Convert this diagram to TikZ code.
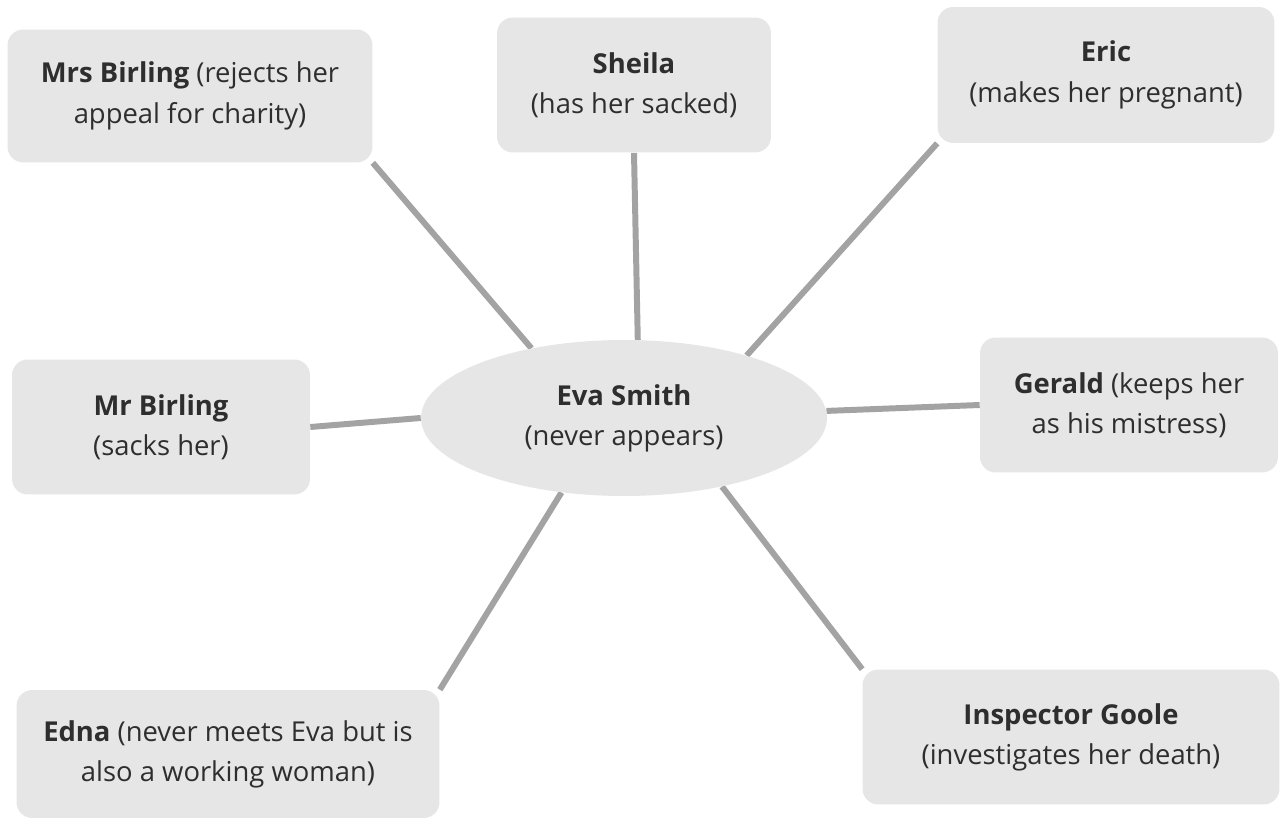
\documentclass[tikz,border=0pt]{standalone}
\usepackage{fontspec}
\setmainfont{Open Sans}
\usetikzlibrary{shapes.geometric,backgrounds}
\definecolor{boxfill}{HTML}{E6E6E6}
\definecolor{linkgray}{HTML}{A3A3A3}
\definecolor{txt}{HTML}{2E2E2E}
\begin{document}
\begin{tikzpicture}[x=0.02cm,y=-0.02cm,
  card/.style={rectangle,rounded corners=9pt,fill=boxfill,draw=none,align=center,
    text=txt,inner sep=0pt,font=\fontsize{15.6}{22.9}\selectfont},
  hub/.style={ellipse,fill=boxfill,draw=none,align=center,text=txt,inner sep=0pt,
    minimum width=8.12cm,minimum height=3.12cm,font=\fontsize{15.6}{22.9}\selectfont},
  link/.style={draw=linkgray,line width=3.4pt}]
\useasboundingbox (0,0) rectangle (1282,820);
\node[hub] (eva) at (624,418) {\textbf{Eva Smith}\\(never appears)};
\node[card,minimum width=7.3cm,minimum height=2.66cm] (mrs) at (190,96) {\textbf{Mrs Birling} (rejects her\\appeal for charity)};
\node[card,minimum width=5.48cm,minimum height=2.7cm] (sheila) at (634,85) {\textbf{Sheila}\\(has her sacked)};
\node[card,minimum width=6.74cm,minimum height=2.72cm] (eric) at (1106,75) {\textbf{Eric}\\(makes her pregnant)};
\node[card,minimum width=5.96cm,minimum height=2.7cm] (mrb) at (161,427) {\textbf{Mr Birling}\\(sacks her)};
\node[card,minimum width=5.96cm,minimum height=2.7cm] (gerald) at (1129,405) {\textbf{Gerald} (keeps her\\as his mistress)};
\node[card,minimum width=8.46cm,minimum height=2.56cm] (edna) at (228,754) {\textbf{Edna} (never meets Eva but is\\also a working woman)};
\node[card,minimum width=8.34cm,minimum height=2.7cm] (goole) at (1071,737) {\textbf{Inspector Goole}\\(investigates her death)};
\begin{scope}[on background layer]
\fill[white] (0,0) rectangle (1282,820);
\draw[link] (mrs.south east) -- (eva.143);
\draw[link] (sheila.south) -- (eva.80);
\draw[link] (eric.south west) -- (eva.27);
\draw[link] (mrb.east) -- (eva.west);
\draw[link] (gerald.west) -- (eva.2);
\draw[link] (edna.north east) -- (eva.230);
\draw[link] (goole.north west) -- (eva.325);
\end{scope}
\end{tikzpicture}
\end{document}
